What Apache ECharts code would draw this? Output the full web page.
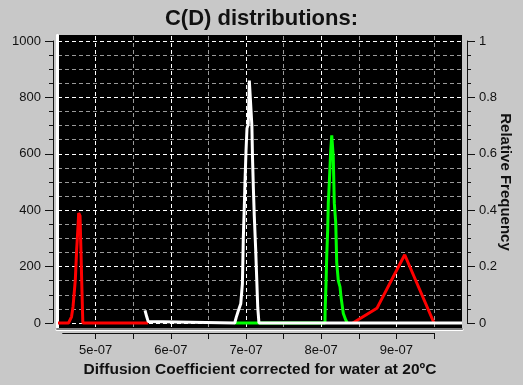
<!DOCTYPE html>
<html>
<head>
<meta charset="utf-8">
<script src="https://cdn.jsdelivr.net/npm/echarts@6/dist/echarts.min.js"></script>
<style>html,body{margin:0;padding:0;background:#c8c8c8;}#c{width:523px;height:385px;}</style>
</head>
<body>
<div id="c"></div>
<script>
// ---- data (D in m^2/s, C(D) amplitude) ----
const redD   = [4.50e-7, 4.64e-7, 4.66e-7, 4.68e-7, 4.70e-7, 4.73e-7, 4.748e-7, 4.766e-7, 4.775e-7, 4.793e-7, 4.806e-7, 4.815e-7, 4.83e-7, 5.70e-7, 7.0e-7, 8.42e-7, 8.74e-7, 9.11e-7, 9.50e-7];
const redC   = [0, 0, 5, 22, 58, 152, 259, 341, 390, 380, 250, 150, 0, 0, null, 0, 52, 242, 0];
const greenD = [6.85e-7, 8.05e-7, 8.052e-7, 8.064e-7, 8.073e-7, 8.086e-7, 8.094e-7, 8.108e-7, 8.126e-7, 8.14e-7, 8.15e-7, 8.16e-7, 8.174e-7, 8.193e-7, 8.206e-7, 8.227e-7, 8.25e-7, 8.263e-7, 8.281e-7, 8.294e-7, 8.326e-7, 8.347e-7];
const greenC = [0, 0, 45, 140, 235, 330, 425, 500, 610, 665, 667, 590, 425, 355, 215, 150, 128, 93, 58, 34, 11, 0];
const whiteD = [5.657e-7, 5.68e-7, 5.70e-7, 5.72e-7, 6.85e-7, 6.87e-7, 6.90e-7, 6.93e-7, 6.945e-7, 6.952e-7, 6.964e-7, 6.977e-7, 6.987e-7, 7.000e-7, 7.013e-7, 7.030e-7, 7.044e-7, 7.070e-7, 7.078e-7, 7.086e-7, 7.097e-7, 7.110e-7, 7.128e-7, 7.142e-7, 7.156e-7, 7.172e-7, 9.872e-7];
const whiteC = [45, 22, 5, 0, 0, 20, 45, 68, 72, 140, 300, 410, 505, 610, 690, 705, 860, 860, 700, 590, 485, 380, 265, 160, 55, 0, 0];
const xTickValues  = [5e-7, 5.5e-7, 6e-7, 6.5e-7, 7e-7, 7.5e-7, 8e-7, 8.5e-7, 9e-7, 9.5e-7];
const xLabelValues = [5e-7, 6e-7, 7e-7, 8e-7, 9e-7];
const xMin = 4.5e-7, xMax = 9.872e-7;

// axes work in units of 1e-7 to avoid tiny-number rounding
const U = 1e7;
const u = v => Math.round(v * U * 1e6) / 1e6;
const pairs = (xs, ys) => xs.map((x, i) => [u(x), ys[i] === null ? '-' : ys[i]]);
const fmtExp = v => { const s = (v / U).toExponential(0); return s.replace(/e([+-])(\d)$/, 'e$10$2'); };

const FONT = 'Liberation Sans, Arial, sans-serif';
const TXT = '#111';
const dashBright = '#ffffff', dashGray = '#9a9a9a';
const NOB = {outerBoundsMode: 'none', containLabel: false};

const chart = echarts.init(document.getElementById('c'), null, {renderer: 'canvas'});
chart.setOption({
  backgroundColor: '#c8c8c8',
  animation: false,
  title: {
    text: 'C(D) distributions:', left: 'center', top: 3,
    textStyle: {fontFamily: FONT, fontSize: 22, fontWeight: 'bold', color: TXT}
  },
  grid: [
    Object.assign({left: 58, top: 41, width: 404, height: 282, show: false}, NOB),
    Object.assign({left: 57, top: 35, width: 405, height: 294, show: true, backgroundColor: '#000', borderWidth: 0}, NOB),
    Object.assign({left: 62.7, top: 300, width: 371.3, height: 33, show: false}, NOB),
    Object.assign({left: 58, top: 36, width: 413.6, height: 292, show: false}, NOB)
  ],
  xAxis: [
    { // 0 data x
      gridIndex: 0, type: 'value', min: u(xMin), max: u(xMax),
      axisLine: {show: false}, axisTick: {show: false}, axisLabel: {show: false},
      splitLine: {show: false},
      name: 'Diffusion Coefficient corrected for water at 20ºC',
      nameLocation: 'middle', nameGap: 39, nameMoveOverlap: false,
      nameTextStyle: {fontFamily: FONT, fontSize: 15.5, fontWeight: 'bold', color: TXT}
    },
    { // 1 frame bottom
      gridIndex: 1, type: 'value', position: 'bottom', min: 0, max: 1,
      axisLine: {show: true, lineStyle: {color: '#ffffff', width: 3}},
      axisTick: {show: false}, axisLabel: {show: false}, splitLine: {show: false}
    },
    { // 2 frame top
      gridIndex: 1, type: 'value', position: 'top', min: 0, max: 1,
      axisLine: {show: true, lineStyle: {color: '#808080', width: 2}},
      axisTick: {show: false}, axisLabel: {show: false}, splitLine: {show: false}
    },
    { // 3 tick axis
      gridIndex: 2, type: 'value', min: 4.5625, max: 9.5,
      axisLine: {show: true, lineStyle: {color: TXT, width: 1}},
      axisTick: {show: true, length: 6, customValues: xTickValues.map(u), lineStyle: {color: TXT}},
      axisLabel: {show: true, customValues: xLabelValues.map(u), formatter: fmtExp, margin: 11,
                  fontFamily: FONT, fontSize: 13, color: TXT},
      splitLine: {show: false}
    },
    { // 4 vertical grid lines
      gridIndex: 3, type: 'value', min: 4.5, max: 10, interval: 0.5,
      axisLine: {show: false}, axisTick: {show: false}, axisLabel: {show: false},
      splitLine: {show: true, showMinLine: true, showMaxLine: false,
                  lineStyle: {color: [dashGray, dashBright], type: [4, 3], width: 1}}
    }
  ],
  yAxis: [
    { // 0 data left
      gridIndex: 0, type: 'value', position: 'left', offset: 5, min: 0, max: 1000, interval: 200,
      axisLine: {show: true, lineStyle: {color: TXT, width: 1}},
      axisTick: {show: true, length: 8, lineStyle: {color: TXT}},
      minorTick: {show: true, splitNumber: 4, length: 4, lineStyle: {color: TXT}},
      axisLabel: {fontFamily: FONT, fontSize: 13, color: TXT, margin: 12, formatter: v => String(v)},
      splitLine: {show: true, lineStyle: {color: dashBright, type: [4, 3], width: 1}},
      minorSplitLine: {show: true, lineStyle: {color: dashGray, type: [4, 3], width: 1}}
    },
    { // 1 data right
      gridIndex: 0, type: 'value', position: 'right', offset: 5, min: 0, max: 1, interval: 0.2,
      axisLine: {show: true, lineStyle: {color: TXT, width: 1}},
      axisTick: {show: true, length: 8, lineStyle: {color: TXT}},
      minorTick: {show: true, splitNumber: 4, length: 4, lineStyle: {color: TXT}},
      axisLabel: {fontFamily: FONT, fontSize: 13, color: TXT, margin: 12},
      splitLine: {show: false},
      name: 'Relative Frequency', nameLocation: 'middle', nameRotate: -90, nameGap: 31,
      nameMoveOverlap: false,
      nameTextStyle: {fontFamily: FONT, fontSize: 15, fontWeight: 'bold', color: TXT}
    },
    { // 2 frame left
      gridIndex: 1, type: 'value', position: 'left', min: 0, max: 1,
      axisLine: {show: true, lineStyle: {color: '#808080', width: 3}},
      axisTick: {show: false}, axisLabel: {show: false}, splitLine: {show: false}
    },
    { // 3 frame right
      gridIndex: 1, type: 'value', position: 'right', min: 0, max: 1,
      axisLine: {show: true, lineStyle: {color: '#ffffff', width: 3}},
      axisTick: {show: false}, axisLabel: {show: false}, splitLine: {show: false}
    },
    { gridIndex: 2, type: 'value', show: false, min: 0, max: 1 },
    { gridIndex: 3, type: 'value', show: false, min: 0, max: 1 }
  ],
  series: [
    {type: 'line', xAxisIndex: 0, yAxisIndex: 0, data: pairs(redD, redC), showSymbol: false, symbol: 'none',
     clip: false, lineStyle: {color: '#ff0000', width: 3}, connectNulls: false, z: 3},
    {type: 'line', xAxisIndex: 0, yAxisIndex: 0, data: pairs(greenD, greenC), showSymbol: false, symbol: 'none',
     clip: false, lineStyle: {color: '#00ff00', width: 3}, z: 4},
    {type: 'line', xAxisIndex: 0, yAxisIndex: 0, data: pairs(whiteD, whiteC), showSymbol: false, symbol: 'none',
     clip: false, lineStyle: {color: '#ffffff', width: 3}, z: 5}
  ]
});
</script>
</body>
</html>
